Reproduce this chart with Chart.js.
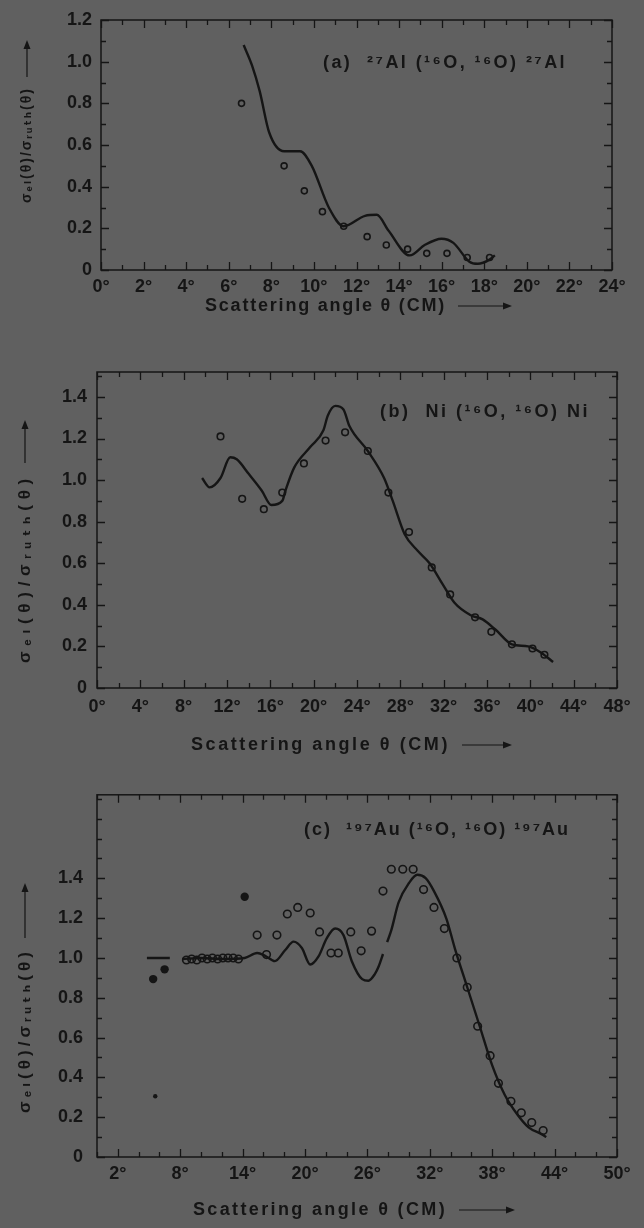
<!DOCTYPE html>
<html lang="en">
<head>
<meta charset="utf-8">
<title>Elastic scattering of 16O</title>
<script src="https://cdn.jsdelivr.net/npm/chart.js@4.4.1/dist/chart.umd.min.js"></script>
<style>
  html, body { margin: 0; padding: 0; background: #606060; }
  #page { position: relative; width: 644px; height: 1228px; background: #606060; overflow: hidden; }
  .panel { position: absolute; left: 0; width: 644px; }
</style>
</head>
<body>
<div id="page">
  <div class="panel" style="top:0;height:330px"><canvas id="chartA"></canvas></div>
  <div class="panel" style="top:340px;height:420px"><canvas id="chartB"></canvas></div>
  <div class="panel" style="top:770px;height:458px"><canvas id="chartC"></canvas></div>
</div>
<script>
// (a) 27Al(16O,16O)27Al
const aAngleTicks = [0, 2, 4, 6, 8, 10, 12, 14, 16, 18, 20, 22, 24];
const aRatioTicks = [0, 0.2, 0.4, 0.6, 0.8, 1.0, 1.2];
const aCurveAngle = [6.7, 7.1, 7.45, 7.9, 8.6, 9.35, 9.9, 10.7, 11.4, 12.4, 12.95, 13.5, 14.5, 15.2, 16.0, 16.55, 17.3, 17.7, 18.25, 18.5];
const aCurveRatio = [1.08, 0.98, 0.86, 0.66, 0.57, 0.57, 0.50, 0.30, 0.21, 0.26, 0.265, 0.19, 0.07, 0.12, 0.15, 0.13, 0.04, 0.03, 0.05, 0.07];
const aPointAngle = [6.6, 8.6, 9.55, 10.4, 11.4, 12.5, 13.4, 14.4, 15.3, 16.25, 17.2, 18.25];
const aPointRatio = [0.80, 0.50, 0.38, 0.28, 0.21, 0.16, 0.12, 0.10, 0.08, 0.08, 0.06, 0.06];

// (b) Ni(16O,16O)Ni
const bAngleTicks = [0, 4, 8, 12, 16, 20, 24, 28, 32, 36, 40, 44, 48];
const bRatioTicks = [0, 0.2, 0.4, 0.6, 0.8, 1.0, 1.2, 1.4];
const bCurveAngle = [9.7, 10.4, 11.4, 12.3, 12.9, 14.0, 15.2, 16.1, 17.1, 17.4, 18.2, 19.7, 20.9, 21.3, 22.0, 22.75, 23.3, 25.0, 26.5, 27.3, 28.4, 29.6, 30.7, 31.9, 33.0, 34.5, 35.6, 36.8, 38.3, 39.8, 41.0, 42.1];
const bCurveRatio = [1.01, 0.965, 1.01, 1.11, 1.10, 1.03, 0.95, 0.88, 0.90, 0.95, 1.06, 1.16, 1.24, 1.31, 1.357, 1.34, 1.26, 1.14, 1.01, 0.90, 0.74, 0.66, 0.60, 0.50, 0.41, 0.35, 0.33, 0.28, 0.21, 0.20, 0.17, 0.125];
const bPointAngle = [11.4, 13.4, 15.4, 17.1, 19.1, 21.1, 22.9, 25.0, 26.9, 28.8, 30.9, 32.6, 34.9, 36.4, 38.3, 40.2, 41.3];
const bPointRatio = [1.21, 0.91, 0.86, 0.94, 1.08, 1.19, 1.23, 1.14, 0.94, 0.75, 0.58, 0.45, 0.34, 0.27, 0.21, 0.19, 0.16];

// (c) 197Au(16O,16O)197Au
const cAngleTicks = [2, 8, 14, 20, 26, 32, 38, 44, 50];
const cRatioTicks = [0, 0.2, 0.4, 0.6, 0.8, 1.0, 1.2, 1.4];
const cCurveAngle = [4.8, 7.0, 7.6, 8.2, 10, 12, 14.2, 15.4, 16.2, 17.1, 18.1, 18.9, 19.7, 20.5, 21.3, 22.1, 22.9, 23.7, 24.5, 25.5, 26.1, 26.7, 27.1, 27.5, 27.7, 27.9, 28.3, 29.0, 30.0, 30.8, 31.6, 32.4, 33.6, 34.4, 35.6, 36.8, 38.0, 39.2, 40.4, 41.5, 42.7, 43.2];
const cCurveRatio = [1.0, 1.0, null, 0.995, 1.0, 0.995, 1.0, 1.025, 1.01, 0.984, 1.04, 1.082, 1.05, 0.967, 1.008, 1.10, 1.148, 1.115, 0.984, 0.894, 0.886, 0.918, 0.96, 1.02, null, 1.08, 1.14, 1.279, 1.377, 1.418, 1.401, 1.336, 1.197, 1.05, 0.853, 0.657, 0.46, 0.313, 0.215, 0.149, 0.116, 0.10];
const cPointAngle = [8.6, 9.1, 9.6, 10.1, 10.6, 11.1, 11.6, 12.1, 12.6, 13.1, 13.6, 15.4, 16.3, 17.3, 18.3, 19.3, 20.5, 21.4, 22.5, 23.2, 24.4, 25.4, 26.4, 27.5, 28.3, 29.4, 30.4, 31.4, 32.4, 33.4, 34.6, 35.6, 36.6, 37.8, 38.6, 39.8, 40.8, 41.8, 42.9];
const cPointRatio = [0.99, 0.995, 0.99, 1.0, 0.995, 1.0, 0.995, 1.0, 1.0, 1.0, 0.995, 1.115, 1.017, 1.115, 1.221, 1.254, 1.226, 1.131, 1.025, 1.025, 1.131, 1.036, 1.135, 1.336, 1.446, 1.446, 1.446, 1.344, 1.254, 1.148, 1.0, 0.853, 0.657, 0.509, 0.37, 0.28, 0.222, 0.173, 0.133];
const cDotAngle = [5.4, 6.5, 5.6, 14.2];
const cDotRatio = [0.894, 0.943, 0.305, 1.308];

const ink = '#151515';
const fontFamily = '"Liberation Sans", "DejaVu Sans", sans-serif';
const yTitle = 'σₑₗ(θ)/σᵣᵤₜₕ(θ)';
const xTitle = 'Scattering angle θ (CM)';

const pts = (xs, ys) => xs.map((x, i) => ({ x: x, y: ys[i] }));

// stretch a string to a given width with letter spacing
function drawSpaced(ctx, text, x, y, width) {
  ctx.letterSpacing = '0px';
  const w = ctx.measureText(text).width;
  const extra = Math.max(0, (width - w) / text.length);
  ctx.letterSpacing = extra + 'px';
  ctx.fillText(text, x, y);
  ctx.letterSpacing = '0px';
}

function arrow(ctx, x0, x1, y) {
  ctx.beginPath();
  ctx.moveTo(x0, y);
  ctx.lineTo(x1 - 8, y);
  ctx.stroke();
  ctx.beginPath();
  ctx.moveTo(x1, y);
  ctx.lineTo(x1 - 9, y - 3.5);
  ctx.lineTo(x1 - 9, y + 3.5);
  ctx.closePath();
  ctx.fill();
}

// box with inward ticks on all four sides
const frameTicks = {
  id: 'frameTicks',
  afterDatasetsDraw(chart, args, opts) {
    const { ctx, chartArea: a, scales: { x, y } } = chart;
    ctx.save();
    ctx.strokeStyle = ink;
    ctx.lineWidth = 1.5;
    ctx.strokeRect(a.left, a.top, a.right - a.left, a.bottom - a.top);
    ctx.lineWidth = 1.3;
    const isMajor = (scale, v) => scale.ticks.some(t => Math.abs(t.value - v) < 1e-6);
    ctx.beginPath();
    for (let v = x.min; v <= x.max + 1e-6; v += opts.xStep) {
      const px = Math.round(x.getPixelForValue(v)) + 0.5;
      const len = isMajor(x, v) ? 8 : 5;
      ctx.moveTo(px, a.bottom); ctx.lineTo(px, a.bottom - len);
      ctx.moveTo(px, a.top); ctx.lineTo(px, a.top + len);
    }
    for (let v = y.min; v <= y.max + 1e-6; v += opts.yStep) {
      const py = Math.round(y.getPixelForValue(v)) + 0.5;
      const len = isMajor(y, Math.round(v * 10) / 10) ? 8 : 5;
      ctx.moveTo(a.left, py); ctx.lineTo(a.left + len, py);
      ctx.moveTo(a.right, py); ctx.lineTo(a.right - len, py);
    }
    ctx.stroke();
    ctx.restore();
  }
};

// reaction label and axis titles
const figureText = {
  id: 'figureText',
  afterDraw(chart, args, o) {
    const ctx = chart.ctx;
    ctx.save();
    ctx.fillStyle = ink;
    ctx.strokeStyle = ink;
    ctx.lineWidth = 1.2;
    ctx.textBaseline = 'middle';
    ctx.textAlign = 'left';

    ctx.font = 'bold ' + o.labelSize + 'px ' + fontFamily;
    drawSpaced(ctx, o.label, o.labelX, o.labelY, o.labelW);

    ctx.font = 'bold ' + o.xSize + 'px ' + fontFamily;
    drawSpaced(ctx, xTitle, o.xTitleX, o.xTitleY, o.xTitleW);
    arrow(ctx, o.xTitleX + o.xTitleW + 12, o.xArrowEnd, o.xTitleY);

    ctx.translate(o.yTitleX, o.yTitleBottom);
    ctx.rotate(-Math.PI / 2);
    ctx.font = 'bold ' + o.ySize + 'px ' + fontFamily;
    drawSpaced(ctx, yTitle, 0, 0, o.yTitleW);
    arrow(ctx, o.yTitleW + 10, o.yTitleBottom - o.yArrowEnd, 0);
    ctx.restore();
  }
};

function makePanel(id, p) {
  return new Chart(document.getElementById(id), {
    type: 'scatter',
    data: { datasets: p.datasets },
    options: {
      responsive: true,
      maintainAspectRatio: false,
      animation: false,
      layout: { padding: { left: 0, right: p.right, top: p.top, bottom: p.bottom } },
      plugins: {
        legend: { display: false },
        tooltip: { enabled: false },
        frameTicks: p.frame,
        figureText: p.text
      },
      scales: {
        x: {
          type: 'linear',
          min: p.xMin,
          max: p.xMax,
          grid: { display: false, drawTicks: false },
          border: { display: false },
          afterBuildTicks: s => { s.ticks = p.xTicks.map(v => ({ value: v })); },
          afterFit: s => { s.height = 50; },
          ticks: {
            color: ink,
            font: { family: fontFamily, size: 18, weight: 'bold' },
            padding: p.xPad,
            maxRotation: 0,
            autoSkip: false,
            callback: v => v + '°'
          }
        },
        y: {
          type: 'linear',
          min: 0,
          max: p.yMax,
          grid: { display: false, drawTicks: false },
          border: { display: false },
          afterBuildTicks: s => { s.ticks = p.yTicks.map(v => ({ value: v })); },
          afterFit: s => { s.width = p.left; },
          ticks: {
            color: ink,
            font: { family: fontFamily, size: 18, weight: 'bold' },
            padding: p.yPad,
            autoSkip: false,
            callback: v => v === 0 ? '0' : v.toFixed(1)
          }
        }
      }
    },
    plugins: [frameTicks, figureText]
  });
}

const curveStyle = {
  showLine: true,
  pointRadius: 0,
  borderColor: ink,
  borderWidth: 2.4,
  cubicInterpolationMode: 'monotone'
};
const circleStyle = {
  pointRadius: 3.5,
  pointBorderWidth: 1.6,
  pointBorderColor: ink,
  pointBackgroundColor: 'rgba(0,0,0,0)'
};

makePanel('chartA', {
  datasets: [
    Object.assign({ data: pts(aCurveAngle, aCurveRatio) }, curveStyle),
    Object.assign({ data: pts(aPointAngle, aPointRatio) }, circleStyle, { pointRadius: 3 })
  ],
  xMin: 0, xMax: 24, yMax: 1.2,
  xTicks: aAngleTicks, yTicks: aRatioTicks,
  left: 101, right: 32, top: 20, bottom: 10,
  xPad: 6, yPad: 9,
  frame: { xStep: 1, yStep: 0.1 },
  text: {
    label: '(a)  ²⁷Al (¹⁶O, ¹⁶O) ²⁷Al', labelSize: 18, labelX: 323, labelY: 63, labelW: 244,
    xSize: 18, xTitleX: 205, xTitleY: 306, xTitleW: 241, xArrowEnd: 512,
    ySize: 14, yTitleX: 27, yTitleBottom: 203, yTitleW: 116, yArrowEnd: 40
  }
});

makePanel('chartB', {
  datasets: [
    Object.assign({ data: pts(bCurveAngle, bCurveRatio) }, curveStyle),
    Object.assign({ data: pts(bPointAngle, bPointRatio) }, circleStyle, { pointRadius: 3.3 })
  ],
  xMin: 0, xMax: 48, yMax: 1.52,
  xTicks: bAngleTicks, yTicks: bRatioTicks,
  left: 97, right: 27, top: 32, bottom: 22,
  xPad: 8, yPad: 10,
  frame: { xStep: 2, yStep: 0.1 },
  text: {
    label: '(b)  Ni (¹⁶O, ¹⁶O) Ni', labelSize: 18, labelX: 380, labelY: 72, labelW: 210,
    xSize: 18, xTitleX: 191, xTitleY: 405, xTitleW: 259, xArrowEnd: 512,
    ySize: 17, yTitleX: 25, yTitleBottom: 323, yTitleW: 190, yArrowEnd: 80
  }
});

makePanel('chartC', {
  datasets: [
    Object.assign({ data: pts(cCurveAngle, cCurveRatio) }, curveStyle),
    Object.assign({ data: pts(cPointAngle, cPointRatio) }, circleStyle, { pointRadius: 3.8 }),
    {
      data: pts(cDotAngle, cDotRatio),
      pointRadius: c => (c.raw && c.raw.y < 0.5) ? 2.2 : 4.2,
      pointBorderWidth: 0,
      pointBackgroundColor: ink
    }
  ],
  xMin: 0, xMax: 50, yMax: 1.82,
  xTicks: cAngleTicks, yTicks: cRatioTicks,
  left: 97, right: 27, top: 16, bottom: 21,
  xPad: 6, yPad: 14,
  frame: { xStep: 2, yStep: 0.1 },
  text: {
    label: '(c)  ¹⁹⁷Au (¹⁶O, ¹⁶O) ¹⁹⁷Au', labelSize: 18, labelX: 304, labelY: 60, labelW: 266,
    xSize: 18, xTitleX: 193, xTitleY: 440, xTitleW: 254, xArrowEnd: 515,
    ySize: 17, yTitleX: 25, yTitleBottom: 343, yTitleW: 165, yArrowEnd: 113
  }
});
</script>
</body>
</html>
